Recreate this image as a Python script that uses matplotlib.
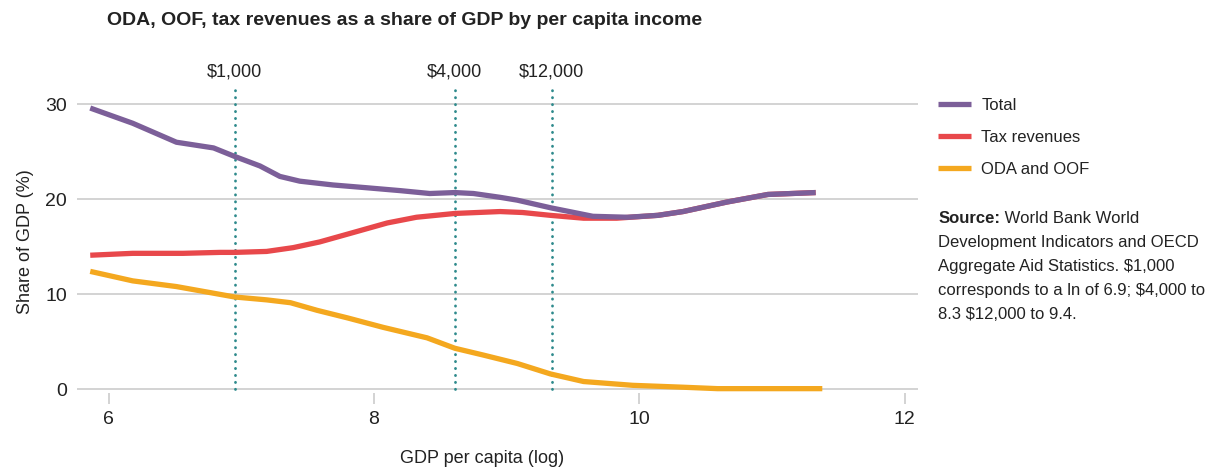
import matplotlib.pyplot as plt

plt.rcParams['font.family'] = ['Liberation Sans', 'DejaVu Sans']

# data (x = log GDP per capita, y = share of GDP %)
total_x = [5.86, 6.18, 6.51, 6.79, 6.95, 7.14, 7.29, 7.44, 7.69, 7.95, 8.20, 8.42, 8.61,
           8.75, 8.95, 9.08, 9.33, 9.65, 9.91, 10.14, 10.33, 10.66, 10.97, 11.33]
total_y = [29.6, 28.0, 26.0, 25.4, 24.5, 23.5, 22.4, 21.9, 21.5, 21.2, 20.9, 20.6, 20.7,
           20.6, 20.2, 19.9, 19.1, 18.2, 18.1, 18.3, 18.7, 19.7, 20.5, 20.7]

tax_x = [5.86, 6.18, 6.56, 6.84, 6.95, 7.19, 7.39, 7.59, 7.82, 8.10, 8.32, 8.61, 8.95,
         9.12, 9.33, 9.58, 9.83, 10.14, 10.33, 10.66, 10.97, 11.33]
tax_y = [14.1, 14.3, 14.3, 14.4, 14.4, 14.5, 14.9, 15.5, 16.4, 17.5, 18.1, 18.5, 18.7,
         18.6, 18.3, 18.0, 18.0, 18.3, 18.7, 19.7, 20.5, 20.7]

oda_x = [5.86, 6.18, 6.51, 6.79, 6.95, 7.19, 7.37, 7.57, 7.80, 8.07, 8.40, 8.61, 8.82,
         9.08, 9.33, 9.58, 9.95, 10.33, 10.59, 11.38]
oda_y = [12.4, 11.4, 10.8, 10.1, 9.7, 9.4, 9.1, 8.3, 7.5, 6.5, 5.4, 4.3, 3.6,
         2.7, 1.6, 0.8, 0.4, 0.2, 0.05, 0.05]

marker_x = [6.95, 8.61, 9.34]
marker_labels = ['$1,000', '$4,000', '$12,000']

c_total = '#7c5f99'
c_tax = '#e8484b'
c_oda = '#f4a81f'
c_dot = '#2e8a8c'
c_text = '#222222'

fig = plt.figure(figsize=(12.14, 4.70), dpi=100)
ax = fig.add_axes([0.0634, 0.164, 0.6926, 0.6445])

ax.plot(tax_x, tax_y, color=c_tax, lw=3.8, solid_capstyle='butt', label='Tax revenues', zorder=3)
ax.plot(oda_x, oda_y, color=c_oda, lw=3.8, solid_capstyle='butt', label='ODA and OOF', zorder=3)
ax.plot(total_x, total_y, color=c_total, lw=3.8, solid_capstyle='butt', label='Total', zorder=4)

for xv, lab in zip(marker_x, marker_labels):
    ax.plot([xv, xv], [0, 31.6], color=c_dot, lw=2.0, linestyle=(0, (0.1, 2.4)),
            dash_capstyle='round', clip_on=False, zorder=2)
    ax.text(xv, 1.06, lab, transform=ax.get_xaxis_transform(), ha='center', va='center',
            fontsize=13, color=c_text)

ax.set_xlim(5.76, 12.1)
ax.set_ylim(-0.4, 31.5)
ax.set_xticks([6, 8, 10, 12])
ax.set_yticks([0, 10, 20, 30])
ax.yaxis.grid(True, color='#c8c8c8', lw=1.1)
ax.set_axisbelow(True)
for s in ax.spines.values():
    s.set_visible(False)
ax.tick_params(axis='y', length=0, pad=7, labelsize=14, labelcolor=c_text)
ax.tick_params(axis='x', length=8, width=1.1, color='#c8c8c8', pad=5, labelsize=14,
               labelcolor=c_text)

ax.set_xlabel('GDP per capita (log)', fontsize=13, color=c_text)
ax.xaxis.set_label_coords(0.482, -0.19)
ax.set_ylabel('Share of GDP (%)', fontsize=13, color=c_text, labelpad=8)

fig.text(0.088, 0.957, 'ODA, OOF, tax revenues as a share of GDP by per capita income',
         fontsize=14, fontweight='bold', color=c_text, va='center')

handles, labels = ax.get_legend_handles_labels()
order = [2, 0, 1]
fig.legend([handles[i] for i in order], [labels[i] for i in order],
           loc='upper left', bbox_to_anchor=(0.7727, 0.792), frameon=False, fontsize=12,
           handlelength=2.0, handletextpad=0.6, labelspacing=1.02, borderpad=0,
           borderaxespad=0, labelcolor=c_text)

src = fig.text(0.7727, 0.551, 'Source:', fontsize=12, fontweight='bold', color=c_text, va='top')
ax.annotate(' World Bank World', xy=(1, 1), xycoords=src, va='top', ha='left',
            fontsize=12, color=c_text)
fig.text(0.7727, 0.499,
         'Development Indicators and OECD\nAggregate Aid Statistics. $1,000\n'
         'corresponds to a ln of 6.9; $4,000 to\n8.3 $12,000 to 9.4.',
         fontsize=12, color=c_text, va='top', linespacing=1.75)

fig.savefig('out.png', dpi=100)
